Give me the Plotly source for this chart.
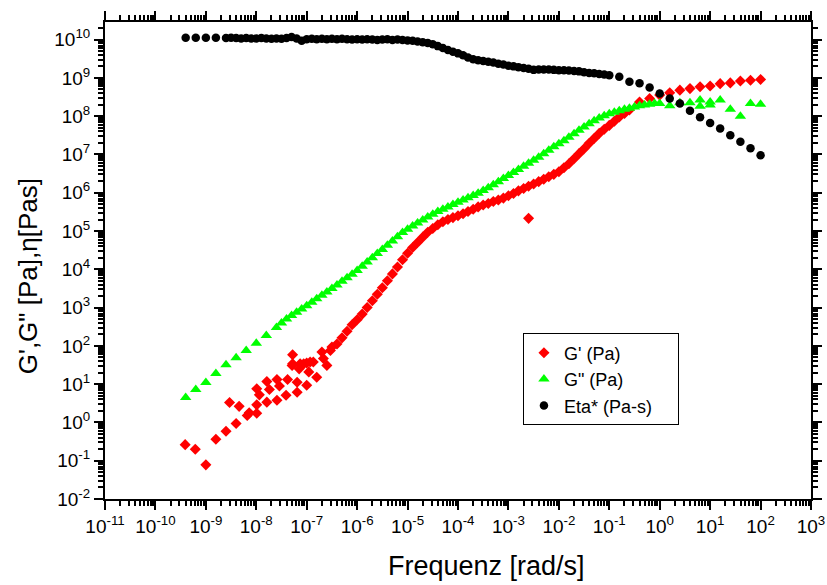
import plotly.graph_objects as go

# Storage modulus G' (Pa): scattered low-frequency points, master curve, high-frequency end
gp_freq_scatter = [3.89e-10, 6.17e-10, 1.0e-9, 1.58e-9, 2.51e-9, 3.98e-9, 2.95e-9, 4.57e-9,
                   6.61e-9, 7.24e-9, 1.02e-8, 1.02e-8, 1.02e-8, 1.15e-8, 1.62e-8, 1.62e-8,
                   1.82e-8, 2.57e-8, 2.57e-8, 2.88e-8, 3.89e-8, 4.17e-8, 6.46e-8, 6.46e-8,
                   5.25e-8, 5.25e-8, 7.08e-8, 1.0e-7, 8.71e-8, 1.17e-7, 1.58e-7, 2.0e-7,
                   2.51e-7, 3.16e-7, 5.13e-8, 7.41e-8, 1.0e-7, 1.10e-7, 1.35e-7, 2.14e-7,
                   2.95e-7]
gp_scatter = [0.263, 0.20, 0.078, 0.363, 0.589, 0.933, 3.31, 2.63,
              1.51, 1.78, 1.74, 2.88, 7.59, 5.25, 3.39, 11.7,
              7.24, 3.80, 13.2, 8.91, 5.13, 13.2, 11.2, 6.17,
              58.9, 33.9, 25.1, 9.33, 33.9, 38.0, 15.1, 69.2,
              30.9, 93.3, 30.9, 33.9, 35.5, 20.9, 38.0, 46.8,
              75.9]

gp_freq_main = [3.98e-7, 5.01e-7, 6.31e-7, 7.94e-7,
                1.0e-6, 1.26e-6, 1.58e-6, 2.0e-6, 2.51e-6, 3.16e-6, 3.98e-6, 5.01e-6, 6.31e-6, 7.94e-6,
                1.0e-5, 1.26e-5, 1.58e-5, 2.0e-5, 2.51e-5, 3.16e-5, 3.98e-5, 5.01e-5, 6.31e-5, 7.94e-5,
                1.0e-4, 1.26e-4, 1.58e-4, 2.0e-4, 2.51e-4, 3.16e-4, 3.98e-4, 5.01e-4, 6.31e-4, 7.94e-4,
                1.0e-3, 1.26e-3, 1.58e-3, 2.0e-3, 2.51e-3, 3.16e-3, 3.98e-3, 5.01e-3, 6.31e-3, 7.94e-3,
                1.0e-2, 1.26e-2, 1.58e-2, 2.0e-2, 2.51e-2, 3.16e-2, 3.98e-2, 5.01e-2, 6.31e-2, 7.94e-2,
                0.1, 0.126, 0.158, 0.2, 0.251,
                0.398, 0.631, 1.0, 1.58, 2.51, 3.98, 6.31, 10.0, 15.8, 25.1, 39.8, 63.1, 100.0]
gp_main = [112, 162, 240, 355,
           479, 676, 1.0e3, 1.51e3, 2.24e3, 3.31e3, 5.01e3, 7.59e3, 1.15e4, 1.78e4,
           2.63e4, 3.72e4, 5.01e4, 6.92e4, 9.33e4, 1.17e5, 1.45e5, 1.74e5, 2.0e5, 2.24e5,
           2.51e5, 2.82e5, 3.24e5, 3.72e5, 4.27e5, 4.79e5, 5.25e5, 5.89e5, 6.46e5, 7.24e5,
           8.32e5, 9.55e5, 1.12e6, 1.29e6, 1.48e6, 1.70e6, 1.95e6, 2.24e6, 2.63e6, 3.02e6,
           3.55e6, 4.47e6, 5.75e6, 7.76e6, 1.05e7, 1.41e7, 1.95e7, 2.63e7, 3.55e7, 4.57e7,
           5.75e7, 7.41e7, 9.55e7, 1.17e8, 1.45e8,
           2.34e8, 2.88e8, 3.55e8, 4.07e8, 4.79e8, 5.25e8, 5.89e8, 6.17e8, 7.08e8, 7.41e8,
           8.32e8, 8.71e8, 9.12e8]
gp_freq_outlier = [2.51e-3]
gp_outlier = [2.14e5]

# Loss modulus G'' (Pa)
gpp_freq = [3.98e-10, 6.31e-10, 1.0e-9, 1.58e-9, 2.51e-9, 3.98e-9, 6.31e-9, 1.0e-8, 1.58e-8, 2.51e-8,
            3.16e-8, 3.98e-8, 5.01e-8, 6.31e-8, 7.94e-8,
            1.0e-7, 1.26e-7, 1.58e-7, 2.0e-7, 2.51e-7, 3.16e-7, 3.98e-7, 5.01e-7, 6.31e-7, 7.94e-7,
            1.0e-6, 1.26e-6, 1.58e-6, 2.0e-6, 2.51e-6, 3.16e-6, 3.98e-6, 5.01e-6, 6.31e-6, 7.94e-6,
            1.0e-5, 1.26e-5, 1.58e-5, 2.0e-5, 2.51e-5, 3.16e-5, 3.98e-5, 5.01e-5, 6.31e-5, 7.94e-5,
            1.0e-4, 1.26e-4, 1.58e-4, 2.0e-4, 2.51e-4, 3.16e-4, 3.98e-4, 5.01e-4, 6.31e-4, 7.94e-4,
            1.0e-3, 1.26e-3, 1.58e-3, 2.0e-3, 2.51e-3, 3.16e-3, 3.98e-3, 5.01e-3, 6.31e-3, 7.94e-3,
            1.0e-2, 1.26e-2, 1.58e-2, 2.0e-2, 2.51e-2, 3.16e-2, 3.98e-2, 5.01e-2, 6.31e-2, 7.94e-2,
            0.1, 0.126, 0.158, 0.2, 0.251, 0.316, 0.398, 0.501, 0.631, 0.794,
            1.0, 1.58, 2.51, 3.98, 6.31, 6.31, 10.0, 10.0, 15.8, 25.1, 39.8, 63.1, 100.0]
gpp = [4.5, 7.2, 11, 19, 32, 49, 76, 117, 186, 302,
       398, 501, 617, 759, 912,
       1.12e3, 1.38e3, 1.70e3, 2.09e3, 2.57e3, 3.16e3, 3.89e3, 4.90e3, 6.03e3, 7.41e3,
       9.33e3, 1.20e4, 1.55e4, 2.00e4, 2.57e4, 3.31e4, 4.27e4, 5.50e4, 7.08e4, 9.12e4,
       1.12e5, 1.35e5, 1.62e5, 1.95e5, 2.34e5, 2.75e5, 3.24e5, 3.72e5, 4.27e5, 4.90e5,
       5.62e5, 6.46e5, 7.41e5, 8.51e5, 9.77e5, 1.15e6, 1.35e6, 1.62e6, 1.95e6, 2.34e6,
       2.82e6, 3.39e6, 4.07e6, 4.90e6, 5.89e6, 7.08e6, 8.51e6, 1.05e7, 1.29e7, 1.58e7,
       1.91e7, 2.29e7, 2.82e7, 3.47e7, 4.27e7, 5.25e7, 6.31e7, 7.59e7, 8.91e7, 1.02e8,
       1.15e8, 1.26e8, 1.38e8, 1.51e8, 1.62e8, 1.74e8, 1.86e8, 1.95e8, 2.04e8, 2.14e8,
       2.14e8, 1.86e8, 2.24e8, 2.24e8, 2.63e8, 1.82e8, 2.34e8, 1.95e8, 2.63e8, 1.51e8,
       1.0e8, 2.14e8, 2.04e8]

# Complex viscosity Eta* (Pa-s)
eta_freq = [3.98e-10, 6.31e-10, 1.0e-9, 1.58e-9,
            2.51e-9, 3.16e-9, 3.98e-9, 5.01e-9, 6.31e-9, 7.94e-9,
            1.0e-8, 1.26e-8, 1.58e-8, 2.0e-8, 2.51e-8, 3.16e-8, 3.98e-8, 5.01e-8, 6.31e-8, 7.94e-8,
            1.0e-7, 1.26e-7, 1.58e-7, 2.0e-7, 2.51e-7, 3.16e-7, 3.98e-7, 5.01e-7, 6.31e-7, 7.94e-7,
            1.0e-6, 1.26e-6, 1.58e-6, 2.0e-6, 2.51e-6, 3.16e-6, 3.98e-6, 5.01e-6, 6.31e-6, 7.94e-6,
            1.0e-5, 1.26e-5, 1.58e-5, 2.0e-5, 2.51e-5, 3.16e-5, 3.98e-5, 5.01e-5, 6.31e-5, 7.94e-5,
            1.0e-4, 1.26e-4, 1.58e-4, 2.0e-4, 2.51e-4, 3.16e-4, 3.98e-4, 5.01e-4, 6.31e-4, 7.94e-4,
            1.0e-3, 1.26e-3, 1.58e-3, 2.0e-3, 2.51e-3, 3.16e-3, 3.98e-3, 5.01e-3, 6.31e-3, 7.94e-3,
            1.0e-2, 1.26e-2, 1.58e-2, 2.0e-2, 2.51e-2, 3.16e-2, 3.98e-2, 5.01e-2, 6.31e-2, 7.94e-2,
            0.1,
            0.158, 0.251, 0.398, 0.631, 1.0, 1.58, 2.51, 3.98, 6.31, 10.0, 15.8, 25.1, 39.8, 63.1, 100.0]
eta = [1.12e10, 1.12e10, 1.12e10, 1.12e10,
       1.10e10, 1.12e10, 1.10e10, 1.07e10, 1.10e10, 1.07e10,
       1.07e10, 1.10e10, 1.07e10, 1.05e10, 1.07e10, 1.05e10, 1.10e10, 1.17e10, 1.07e10, 9.33e9,
       1.02e10, 1.05e10, 1.02e10, 1.05e10, 1.02e10, 1.05e10, 1.02e10, 1.05e10, 1.02e10, 1.0e10,
       1.02e10, 1.0e10, 1.02e10, 1.0e10, 9.77e9, 1.0e10, 1.02e10, 9.77e9, 1.0e10, 9.77e9,
       9.55e9, 9.33e9, 8.91e9, 8.51e9, 8.13e9, 7.59e9, 6.76e9, 6.03e9, 5.37e9, 4.79e9,
       4.37e9, 3.89e9, 3.39e9, 3.09e9, 2.88e9, 2.75e9, 2.63e9, 2.51e9, 2.34e9, 2.24e9,
       2.09e9, 2.0e9, 1.91e9, 1.82e9, 1.74e9, 1.62e9, 1.66e9, 1.66e9, 1.66e9, 1.62e9,
       1.58e9, 1.58e9, 1.55e9, 1.51e9, 1.48e9, 1.41e9, 1.35e9, 1.32e9, 1.26e9, 1.23e9,
       1.17e9,
       1.07e9, 7.94e8, 7.24e8, 5.62e8, 3.89e8, 2.88e8, 2.14e8, 1.38e8, 9.33e7, 6.61e7,
       4.79e7, 3.16e7, 2.14e7, 1.45e7, 9.55e6]

# Decade tick labels
x_exponents = list(range(-11, 4))
y_exponents = list(range(-2, 11))

FONT = "Arial, Liberation Sans, sans-serif"
NBSP = "\u00a0"

fig = go.Figure()

fig.add_trace(go.Scatter(
    x=gp_freq_scatter + gp_freq_main + gp_freq_outlier,
    y=gp_scatter + gp_main + gp_outlier,
    mode="markers", name="G' (Pa)",
    marker=dict(symbol="diamond", size=8.5, color="#ff0000", line=dict(width=0)),
))
fig.add_trace(go.Scatter(
    x=gpp_freq, y=gpp,
    mode="markers", name='G" (Pa)',
    marker=dict(symbol="triangle-up", size=10, color="#00ff00", line=dict(width=0)),
))
fig.add_trace(go.Scatter(
    x=eta_freq, y=eta,
    mode="markers", name="Eta* (Pa-s)" + NBSP * 4,
    marker=dict(symbol="circle", size=8.5, color="#000000", line=dict(width=0)),
))

axis_common = dict(
    type="log",
    automargin=False,
    showline=True, linewidth=2, linecolor="black",
    mirror="ticks",
    ticks="outside", ticklen=9, tickwidth=2, tickcolor="black",
    showgrid=False, zeroline=False,
    tickfont=dict(family=FONT, size=19, color="black"),
    minor=dict(ticks="outside", ticklen=5, tickwidth=1.5, tickcolor="black",
               dtick="D1", showgrid=False),
)

fig.update_xaxes(
    **axis_common,
    range=[-11, 3],
    tickmode="array",
    tickvals=[10.0 ** e for e in x_exponents],
    ticktext=[f"10<sup>{e}</sup>" for e in x_exponents],
)
fig.update_yaxes(
    **axis_common,
    range=[-2, 10.46],
    tickmode="array",
    tickvals=[10.0 ** e for e in y_exponents],
    ticktext=[f"10<sup>{e}</sup>" for e in y_exponents],
)

# Axis titles placed as annotations
fig.add_annotation(
    text="Frequenz [rad/s]", xref="paper", yref="paper",
    x=0.54, y=-0.1396, xanchor="center", yanchor="middle",
    showarrow=False, font=dict(family=FONT, size=27, color="black"),
)
fig.add_annotation(
    text="G',G\" [Pa],η[Pas]", xref="paper", yref="paper",
    x=-0.109, y=0.467, xanchor="center", yanchor="middle", textangle=-90,
    showarrow=False, font=dict(family=FONT, size=26, color="black"),
)

fig.update_layout(
    width=827, height=585,
    margin=dict(l=105, r=16, t=22, b=86),
    paper_bgcolor="white", plot_bgcolor="white",
    font=dict(family=FONT, color="black"),
    legend=dict(
        x=0.592, y=0.347, xanchor="left", yanchor="top",
        bordercolor="black", borderwidth=1, bgcolor="white",
        font=dict(family=FONT, size=18, color="black"),
    ),
)

fig.write_html("out.html")
